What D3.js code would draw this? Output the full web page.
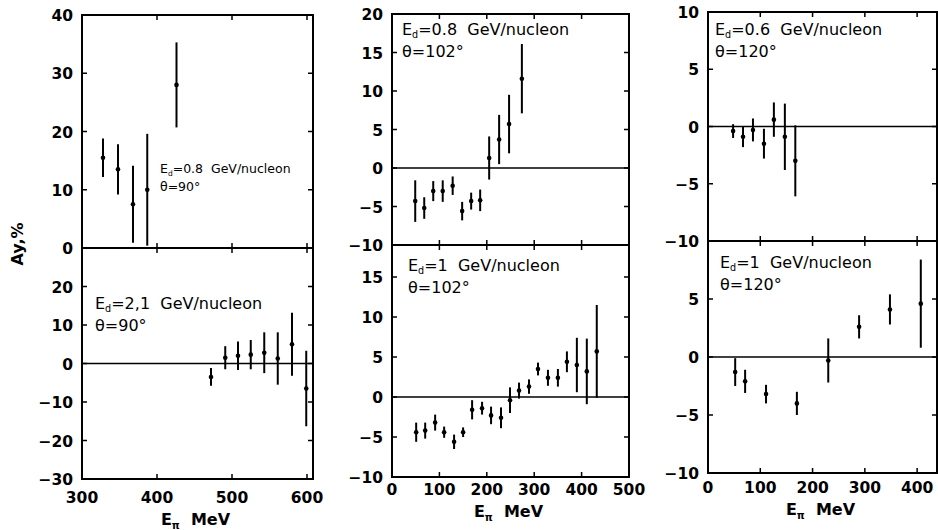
<!DOCTYPE html>
<meta charset="utf-8">
<head>
  <title>Ay vs E_pi</title>
  <script src="https://d3js.org/d3.v7.min.js"></script>
  <style>
    body { margin: 0; background: #fff; }
    .frame { fill: none; stroke: #000; stroke-width: 2; }
    .zero { stroke: #000; stroke-width: 1.3; }
    .tick { stroke: #000; stroke-width: 1.5; }
    .err { stroke: #000; stroke-width: 2; }
    .pt { fill: #000; }
    .tl { font-family: "DejaVu Sans", sans-serif; font-weight: bold; font-size: 15.5px; }
    .lab { font-family: "DejaVu Sans", sans-serif; font-size: 16px; }
    .ttl { font-family: "DejaVu Sans", sans-serif; font-weight: bold; font-size: 16px; }
  </style>
</head>
<body>
  <svg width="938" height="530"></svg>
  <script>
    // ---- data (E in MeV, Ay in %, error in %) ----
    // left column, theta = 90
    var a_E   = [328, 348, 368, 387, 426];
    var a_Ay  = [15.5, 13.5, 7.5, 10, 28];
    var a_err = [3.3, 4.3, 6.6, 9.6, 7.3];

    var b_E   = [472, 491, 508, 525, 543, 561, 580, 599];
    var b_Ay  = [-3.5, 1.5, 2, 2.3, 2.8, 1.3, 5, -6.5];
    var b_err = [2.3, 3, 3.7, 3.8, 5.3, 6.8, 8.2, 9.8];

    // middle column, theta = 102
    var c_E   = [49, 68, 87, 107, 128, 148, 167, 186, 205, 226, 247, 274];
    var c_Ay  = [-4.3, -5.2, -3, -3, -2.3, -5.6, -4.3, -4.2, 1.3, 3.7, 5.7, 11.6];
    var c_err = [2.7, 1.4, 1.3, 1.4, 1.2, 1.2, 1.1, 1.4, 2.8, 3.2, 3.8, 4.5];

    var d_E   = [51, 70, 91, 110, 131, 150, 169, 190, 209, 230, 249, 268, 289, 308, 329, 350, 369, 390, 411, 432];
    var d_Ay  = [-4.4, -4.2, -3.2, -4.4, -5.6, -4.4, -1.6, -1.4, -2.3, -2.6, -0.4, 0.8, 1.3, 3.5, 2.4, 2.4, 4.4, 4, 3.2, 5.7];
    var d_err = [1.2, 1, 1, 0.7, 0.9, 0.6, 1.2, 0.8, 1.1, 1.3, 1.6, 1, 0.9, 0.8, 1, 1.1, 1.3, 3.4, 4.1, 5.8];

    // right column, theta = 120
    var e_E   = [48, 67, 86, 107, 126, 147, 167];
    var e_Ay  = [-0.4, -0.9, -0.3, -1.5, 0.6, -0.9, -3];
    var e_err = [0.6, 0.9, 1, 1.3, 1.5, 2.9, 3.1];

    var f_E   = [52, 71, 111, 170, 230, 289, 348, 407];
    var f_Ay  = [-1.3, -2.1, -3.2, -4, -0.3, 2.6, 4.1, 4.6];
    var f_err = [1.2, 1, 0.8, 1, 1.9, 1, 1.3, 3.8];

    // tick values and labels
    var a_yticks = [0, 10, 20, 30, 40];
    var b_yticks = [-30, -20, -10, 0, 10, 20];
    var left_xticks = [300, 400, 500, 600];
    var c_yticks = [-10, -5, 0, 5, 10, 15, 20];
    var d_yticks = [-10, -5, 0, 5, 10, 15];
    var mid_xticks = [0, 100, 200, 300, 400, 500];
    var e_yticks = [-10, -5, 0, 5, 10];
    var f_yticks = [-10, -5, 0, 5];
    var right_xticks = [0, 100, 200, 300, 400];

    var svg = d3.select("svg");

    function fmt(v) { return v < 0 ? "\u2212" + Math.abs(v) : String(v); }

    function panel(o) {
      var x = d3.scaleLinear().domain(o.xd).range([o.x0, o.x1]);
      var y = d3.scaleLinear().domain(o.yd).range([o.y1, o.y0]);
      var g = svg.append("g");

      // zero line
      if (o.yd[0] < 0) {
        g.append("line").attr("class", "zero")
          .attr("x1", o.x0).attr("x2", o.x1)
          .attr("y1", y(0)).attr("y2", y(0));
      }

      // inner ticks on all sides
      var tl = 5;
      g.selectAll(".yt").data(o.yticks).enter().append("path")
        .attr("class", "tick")
        .attr("d", function (d) {
          return "M" + o.x0 + "," + y(d) + "h" + tl + "M" + o.x1 + "," + y(d) + "h" + (-tl);
        });
      g.selectAll(".xt").data(o.xticks).enter().append("path")
        .attr("class", "tick")
        .attr("d", function (d) {
          return "M" + x(d) + "," + o.y1 + "v" + (-tl) + "M" + x(d) + "," + o.y0 + "v" + tl;
        });

      g.append("rect").attr("class", "frame")
        .attr("x", o.x0).attr("y", o.y0)
        .attr("width", o.x1 - o.x0).attr("height", o.y1 - o.y0);

      // y tick labels
      g.selectAll(".yl").data(o.ylabels).enter().append("text")
        .attr("class", "tl")
        .attr("x", o.x0 - 9).attr("y", function (d) { return y(d) + 6; })
        .attr("text-anchor", "end")
        .text(fmt);

      // x tick labels
      if (o.xlabels) {
        g.selectAll(".xl").data(o.xlabels).enter().append("text")
          .attr("class", "tl")
          .attr("x", function (d) { return x(d); }).attr("y", o.y1 + o.xlOff)
          .attr("text-anchor", "middle")
          .text(fmt);
        var t = g.append("text").attr("class", "ttl")
          .attr("x", (o.x0 + o.x1) / 2 - 2).attr("y", o.y1 + o.xlOff + 22)
          .attr("text-anchor", "middle");
        t.append("tspan").text("E");
        t.append("tspan").attr("font-size", "10px").attr("dy", 4).text("\u03c0");
        t.append("tspan").attr("dy", -4).text("\u00a0\u00a0MeV");
      }

      // data
      var pts = o.E.map(function (e, i) { return { e: e, v: o.Ay[i], s: o.err[i] }; });
      g.selectAll(".err").data(pts).enter().append("line")
        .attr("class", "err")
        .attr("x1", function (d) { return x(d.e); }).attr("x2", function (d) { return x(d.e); })
        .attr("y1", function (d) { return y(d.v + d.s); }).attr("y2", function (d) { return y(d.v - d.s); });
      g.selectAll(".pt").data(pts).enter().append("circle")
        .attr("class", "pt")
        .attr("cx", function (d) { return x(d.e); }).attr("cy", function (d) { return y(d.v); })
        .attr("r", 2.3);

      // legend text
      var l1 = g.append("text").attr("class", "lab")
        .attr("x", o.lx).attr("y", o.ly).style("font-size", o.lfs + "px");
      l1.append("tspan").text("E");
      l1.append("tspan").attr("font-size", (o.lfs * 0.6) + "px").attr("dy", 3).text("d");
      l1.append("tspan").attr("dy", -3).text(o.l1);
      g.append("text").attr("class", "lab")
        .attr("x", o.lx).attr("y", o.ly + o.lfs * 1.4).style("font-size", o.lfs + "px")
        .text(o.l2);
    }

    panel({ x0: 82, x1: 313, y0: 15, y1: 248, xd: [300, 608], yd: [0, 40],
      E: a_E, Ay: a_Ay, err: a_err, yticks: a_yticks, ylabels: a_yticks, xticks: left_xticks,
      lx: 160, ly: 173, lfs: 12.5, l1: "=0.8\u00a0\u00a0GeV/nucleon", l2: "\u03b8=90\u00b0" });
    panel({ x0: 82, x1: 313, y0: 248, y1: 479, xd: [300, 608], yd: [-30, 30],
      E: b_E, Ay: b_Ay, err: b_err, yticks: b_yticks, ylabels: b_yticks, xticks: left_xticks,
      xlabels: left_xticks, xlOff: 24,
      lx: 95, ly: 309, lfs: 16, l1: "=2,1\u00a0\u00a0GeV/nucleon", l2: "\u03b8=90\u00b0" });

    panel({ x0: 392, x1: 629, y0: 14, y1: 245, xd: [0, 500], yd: [-10, 20],
      E: c_E, Ay: c_Ay, err: c_err, yticks: c_yticks, ylabels: c_yticks, xticks: mid_xticks,
      lx: 402, ly: 35, lfs: 16, l1: "=0.8\u00a0\u00a0GeV/nucleon", l2: "\u03b8=102\u00b0" });
    panel({ x0: 392, x1: 629, y0: 245, y1: 477, xd: [0, 500], yd: [-10, 19],
      E: d_E, Ay: d_Ay, err: d_err, yticks: d_yticks, ylabels: d_yticks, xticks: mid_xticks,
      xlabels: mid_xticks, xlOff: 18,
      lx: 408, ly: 271, lfs: 16, l1: "=1\u00a0\u00a0GeV/nucleon", l2: "\u03b8=102\u00b0" });

    panel({ x0: 708, x1: 937, y0: 12, y1: 241, xd: [0, 438], yd: [-10, 10],
      E: e_E, Ay: e_Ay, err: e_err, yticks: e_yticks, ylabels: e_yticks, xticks: right_xticks,
      lx: 715, ly: 35, lfs: 16, l1: "=0.6\u00a0\u00a0GeV/nucleon", l2: "\u03b8=120\u00b0" });
    panel({ x0: 708, x1: 937, y0: 241, y1: 473, xd: [0, 438], yd: [-10, 10],
      E: f_E, Ay: f_Ay, err: f_err, yticks: f_yticks, ylabels: f_yticks, xticks: right_xticks,
      xlabels: right_xticks, xlOff: 20,
      lx: 720, ly: 268, lfs: 16, l1: "=1\u00a0\u00a0GeV/nucleon", l2: "\u03b8=120\u00b0" });

    // y axis title
    svg.append("text").attr("class", "ttl")
      .attr("transform", "translate(23,244) rotate(-90)")
      .attr("text-anchor", "middle")
      .text("Ay,%");
  </script>
</body>
